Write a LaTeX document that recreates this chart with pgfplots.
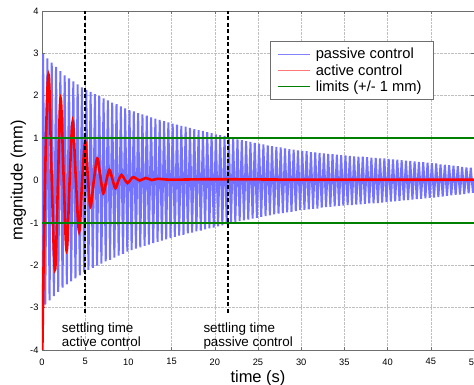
\documentclass[border=0pt]{standalone}
\usepackage{fontspec}
\setmainfont{Liberation Sans}
\usepackage{pgfplots}
\pgfplotsset{compat=1.18}
\definecolor{passblue}{RGB}{115,115,255}
\definecolor{limgreen}{RGB}{0,128,0}
\definecolor{axgray}{RGB}{110,110,110}
\begin{document}
\begin{tikzpicture}
\begin{axis}[
  scale only axis, width=432bp, height=339bp,
  xmin=0, xmax=50, ymin=-4, ymax=4,
  xtick={0,5,...,50}, ytick={-4,-3,...,4},
  grid=major, major grid style={densely dotted, gray!50, line width=0.5bp},
  axis line style={axgray, line width=0.6bp},
  tick style={axgray, line width=0.5bp}, major tick length=3bp, tick align=inside,
  /pgf/number format/assume math mode=true,
  ticklabel style={font=\fontsize{9.3bp}{11bp}\selectfont},
  xticklabel style={yshift=-5bp},
  xlabel={time (s)}, ylabel={magnitude (mm)},
  label style={font=\fontsize{16.5bp}{19bp}\selectfont},
  xlabel style={at={(axis description cs:0.5,-0.0965)}, anchor=base},
  ylabel style={at={(axis description cs:-0.0451,0.5)}, anchor=base},
  legend cell align=left,
  legend style={at={(axis description cs:1,1)}, anchor=north east, xshift=-40.7bp, yshift=-30.5bp,
    draw, color=axgray, text=black, line width=0.6bp, fill=white, font=\fontsize{14.7bp}{17bp}\selectfont,
    inner xsep=6.5bp, inner ysep=5.5bp, row sep=2bp,
    nodes={inner xsep=5bp, inner ysep=1bp}},
]
\addlegendimage{legend image code/.code={\draw[draw={rgb,255:red,130;green,130;blue,255}, line width=1.4bp] (0bp,0bp) -- (32bp,0bp);}}
\addlegendentry{passive control}
\addlegendimage{legend image code/.code={\draw[draw={rgb,255:red,255;green,120;blue,120}, line width=1.4bp] (0bp,0bp) -- (32bp,0bp);}}
\addlegendentry{active control}
\addlegendimage{legend image code/.code={\draw[draw=limgreen, line width=1.6bp] (0bp,0bp) -- (32bp,0bp);}}
\addlegendentry{limits (+/- 1 mm)}
\addplot[draw=passblue, line width=2bp, forget plot]
coordinates {
(0,-3.5)
(0.125,2.98)(0.375,-2.93)(0.625,2.88)(0.875,-2.83)(1.125,2.78)(1.375,-2.73)(1.625,2.68)(1.875,-2.63)(2.125,2.58)(2.375,-2.53)
(2.625,2.48)(2.875,-2.45)(3.125,2.41)(3.375,-2.38)(3.625,2.34)(3.875,-2.31)(4.125,2.27)(4.375,-2.24)(4.625,2.20)(4.875,-2.17)
(5.125,2.14)(5.375,-2.11)(5.625,2.09)(5.875,-2.06)(6.125,2.04)(6.375,-2.01)(6.625,1.99)(6.875,-1.96)(7.125,1.94)(7.375,-1.91)
(7.625,1.89)(7.875,-1.87)(8.125,1.84)(8.375,-1.82)(8.625,1.80)(8.875,-1.77)(9.125,1.75)(9.375,-1.73)(9.625,1.70)(9.875,-1.68)
(10.125,1.66)(10.375,-1.64)(10.625,1.63)(10.875,-1.61)(11.125,1.59)(11.375,-1.58)(11.625,1.56)(11.875,-1.54)(12.125,1.53)(12.375,-1.51)
(12.625,1.49)(12.875,-1.48)(13.125,1.46)(13.375,-1.45)(13.625,1.43)(13.875,-1.42)(14.125,1.40)(14.375,-1.39)(14.625,1.37)(14.875,-1.36)
(15.125,1.34)(15.375,-1.33)(15.625,1.32)(15.875,-1.30)(16.125,1.29)(16.375,-1.28)(16.625,1.27)(16.875,-1.25)(17.125,1.24)(17.375,-1.23)
(17.625,1.21)(17.875,-1.20)(18.125,1.19)(18.375,-1.18)(18.625,1.17)(18.875,-1.15)(19.125,1.14)(19.375,-1.13)(19.625,1.12)(19.875,-1.11)
(20.125,1.09)(20.375,-1.08)(20.625,1.07)(20.875,-1.06)(21.125,1.05)(21.375,-1.03)(21.625,1.02)(21.875,-1.01)(22.125,1.00)(22.375,-0.99)
(22.625,0.97)(22.875,-0.96)(23.125,0.95)(23.375,-0.94)(23.625,0.93)(23.875,-0.92)(24.125,0.91)(24.375,-0.90)(24.625,0.89)(24.875,-0.88)
(25.125,0.87)(25.375,-0.86)(25.625,0.85)(25.875,-0.84)(26.125,0.83)(26.375,-0.82)(26.625,0.81)(26.875,-0.80)(27.125,0.79)(27.375,-0.78)
(27.625,0.78)(27.875,-0.77)(28.125,0.76)(28.375,-0.75)(28.625,0.74)(28.875,-0.74)(29.125,0.73)(29.375,-0.72)(29.625,0.71)(29.875,-0.70)
(30.125,0.70)(30.375,-0.69)(30.625,0.69)(30.875,-0.68)(31.125,0.67)(31.375,-0.67)(31.625,0.66)(31.875,-0.66)(32.125,0.65)(32.375,-0.64)
(32.625,0.64)(32.875,-0.63)(33.125,0.63)(33.375,-0.62)(33.625,0.62)(33.875,-0.61)(34.125,0.61)(34.375,-0.60)(34.625,0.60)(34.875,-0.59)
(35.125,0.59)(35.375,-0.58)(35.625,0.58)(35.875,-0.58)(36.125,0.57)(36.375,-0.57)(36.625,0.56)(36.875,-0.56)(37.125,0.56)(37.375,-0.55)
(37.625,0.55)(37.875,-0.54)(38.125,0.54)(38.375,-0.54)(38.625,0.53)(38.875,-0.53)(39.125,0.52)(39.375,-0.52)(39.625,0.52)(39.875,-0.51)
(40.125,0.51)(40.375,-0.50)(40.625,0.50)(40.875,-0.49)(41.125,0.49)(41.375,-0.48)(41.625,0.48)(41.875,-0.47)(42.125,0.47)(42.375,-0.46)
(42.625,0.46)(42.875,-0.45)(43.125,0.45)(43.375,-0.44)(43.625,0.44)(43.875,-0.43)(44.125,0.43)(44.375,-0.42)(44.625,0.42)(44.875,-0.41)
(45.125,0.41)(45.375,-0.40)(45.625,0.40)(45.875,-0.39)(46.125,0.38)(46.375,-0.38)(46.625,0.37)(46.875,-0.36)(47.125,0.36)(47.375,-0.35)
(47.625,0.35)(47.875,-0.34)(48.125,0.34)(48.375,-0.33)(48.625,0.32)(48.875,-0.32)(49.125,0.31)(49.375,-0.30)(49.625,0.30)(49.875,-0.29)
(50,0)
};
\addplot[draw=red, line width=2.6bp, smooth, tension=0.6, forget plot]
coordinates {
(0,-4.6)(0.35,0)(0.75,2.5)(1.1,0.2)(1.5,-2.1)(1.85,0)(2.15,1.94)(2.5,0.1)(2.85,-1.65)(3.2,0)(3.55,1.39)(3.9,0.1)(4.3,-1.2)(4.65,0)(5.0,0.92)(5.3,0.1)(5.6,-0.62)(6.0,0)(6.4,0.52)(6.75,0.1)(7.1,-0.30)(7.45,0)(7.8,0.25)(8.15,0.03)(8.5,-0.18)(8.85,0)(9.2,0.13)(9.55,0.03)(9.9,-0.06)(10.25,0.02)(10.6,0.08)(11.3,0.0)(12.0,0.06)(12.7,0.01)(13.4,0.04)(15,0.02)(20,0.03)(30,0.02)(40,0.02)(50,0.02)
};
\addplot[draw=limgreen, line width=1.3bp, forget plot] coordinates {(0,1)(50,1)};
\addplot[draw=limgreen, line width=1.3bp, forget plot] coordinates {(0,-1)(50,-1)};
\addplot[draw=black, line width=1.8bp, dash pattern=on 4bp off 2.5bp, forget plot] coordinates {(5,-3.12)(5,4)};
\addplot[draw=black, line width=1.8bp, dash pattern=on 4bp off 2.5bp, forget plot] coordinates {(21.56,-3.12)(21.56,4)};
\node[anchor=north west, inner sep=0pt, align=left, font=\fontsize{13.4bp}{14.3bp}\selectfont] at (axis cs:2.28,-3.35) {settling time\\active control};
\node[anchor=north west, inner sep=0pt, align=left, font=\fontsize{13.4bp}{14.3bp}\selectfont] at (axis cs:18.67,-3.35) {settling time\\passive control};
\end{axis}
\pgfresetboundingbox
\path ([shift={(-42bp,-35bp)}]current axis.south west) rectangle ([shift={(0bp,11bp)}]current axis.north east);
\end{tikzpicture}
\end{document}
